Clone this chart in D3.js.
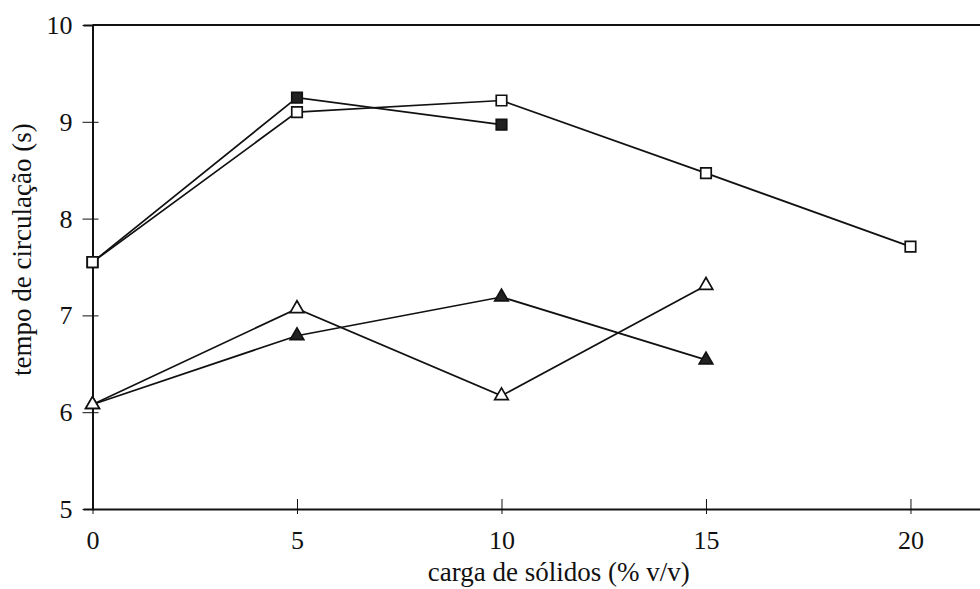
<!DOCTYPE html>
<html>
<head>
<meta charset="utf-8">
<script src="https://cdn.jsdelivr.net/npm/d3@7"></script>
<style>
  body { margin: 0; background: #fff; }
  svg { display: block; }
  text { font-family: "Liberation Serif", "Times New Roman", serif; fill: #111; }
</style>
</head>
<body>
<div id="chart1"></div>
<script>
// x values (carga de sólidos, % v/v)
var cargaSq = [0, 5, 10];
var cargaSqOpen = [0, 5, 10, 15, 20];
var cargaTri = [0, 5, 10, 15];

// tempo de circulação (s)
var tempoSqFilled = [7.55, 9.25, 8.97];
var tempoSqOpen = [7.55, 9.10, 9.22, 8.47, 7.71];
var tempoTriFilled = [6.08, 6.79, 7.19, 6.54];
var tempoTriOpen = [6.08, 7.07, 6.17, 7.31];

var xTicks = [0, 5, 10, 15, 20];
var yTicks = [5, 6, 7, 8, 9, 10];

var series = [
    { xs: cargaSq, ys: tempoSqFilled, shape: "square", filled: true },
    { xs: cargaSqOpen, ys: tempoSqOpen, shape: "square", filled: false },
    { xs: cargaTri, ys: tempoTriFilled, shape: "triangle", filled: true },
    { xs: cargaTri, ys: tempoTriOpen, shape: "triangle", filled: false }
];

var width = 980, height = 589;

var x = d3.scaleLinear().domain([0, 21.7]).range([92.5, 980]);
var y = d3.scaleLinear().domain([5, 10]).range([509, 25]);

var svg = d3.select("#chart1").append("svg")
    .attr("width", width)
    .attr("height", height);

// top frame line
svg.append("line")
    .attr("x1", x(0)).attr("x2", x(21.7))
    .attr("y1", y(10)).attr("y2", y(10))
    .attr("stroke", "#111").attr("stroke-width", 2);

// y axis
var yAxis = svg.append("g")
    .attr("transform", "translate(" + x(0) + ",0)")
    .call(d3.axisLeft(y).tickValues(yTicks).tickSize(9).tickPadding(11).tickFormat(d3.format("d")));
yAxis.select(".domain").attr("stroke", "#111").attr("stroke-width", 2);
yAxis.selectAll(".tick line").attr("x2", 6).attr("x1", -10).attr("stroke", "#111");
yAxis.selectAll("text").style("font-size", "26px").attr("dy", "0.33em");

// x axis
var xAxis = svg.append("g")
    .attr("transform", "translate(0," + y(5) + ")")
    .call(d3.axisBottom(x).tickValues(xTicks).tickSizeOuter(0).tickSize(0));
xAxis.select(".domain").attr("stroke", "#111").attr("stroke-width", 2.2);
xAxis.selectAll(".tick line").attr("y1", -10).attr("y2", 5).attr("stroke", "#111");
xAxis.selectAll("text").style("font-size", "26px").attr("y", 40).attr("dy", 0);

// axis titles
svg.append("text")
    .attr("x", x(11.4)).attr("y", 581)
    .attr("text-anchor", "middle")
    .style("font-size", "27px")
    .text("carga de sólidos (% v/v)");

svg.append("text")
    .attr("transform", "translate(31," + y(7.68) + ") rotate(-90)")
    .attr("text-anchor", "middle")
    .style("font-size", "27px")
    .text("tempo de circulação (s)");

var line = d3.line()
    .x(function (d) { return x(d[0]); })
    .y(function (d) { return y(d[1]); });

series.forEach(function (s) {
    var pts = s.xs.map(function (v, i) { return [v, s.ys[i]]; });
    svg.append("path")
        .datum(pts)
        .attr("d", line)
        .attr("fill", "none")
        .attr("stroke", "#111")
        .attr("stroke-width", 1.7);
});

var sqSym = d3.symbol().type(d3.symbolSquare).size(110);
var triSym = d3.symbol().type(d3.symbolTriangle).size(80);

series.forEach(function (s) {
    var pts = s.xs.map(function (v, i) { return [v, s.ys[i]]; });
    svg.append("g").selectAll("path")
        .data(pts)
        .enter().append("path")
        .attr("d", s.shape === "square" ? sqSym : triSym)
        .attr("transform", function (d) { return "translate(" + x(d[0]) + "," + y(d[1]) + ")"; })
        .attr("fill", s.filled ? "#222" : "#fff")
        .attr("stroke", "#111")
        .attr("stroke-width", 1.7);
});
</script>
</body>
</html>
